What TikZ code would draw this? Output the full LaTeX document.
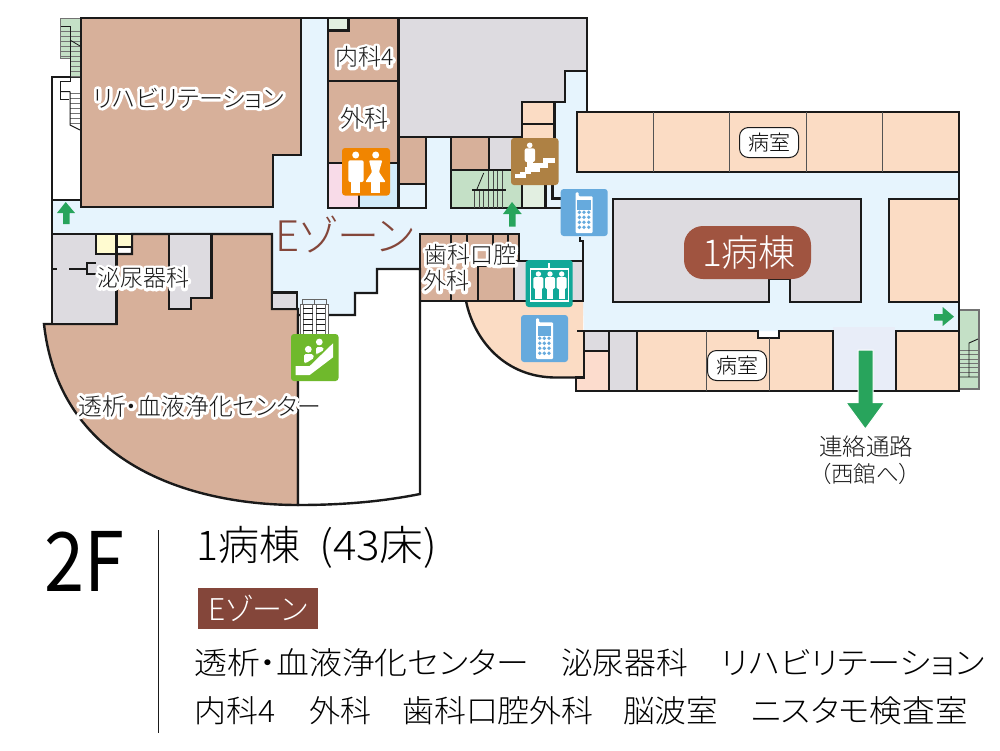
\documentclass[tikz,border=0pt]{standalone}
\usepackage{fontspec}
\setmainfont{Noto Sans CJK JP}[RawFeature={+palt}]
\newfontfamily\lightjp{Noto Sans CJK JP Light}[RawFeature={+palt}]
\definecolor{wall}{HTML}{1A1A1A}
\definecolor{corr}{HTML}{E6F4FD}
\definecolor{brownroom}{HTML}{D7B09A}
\definecolor{grayroom}{HTML}{DDDBE0}
\definecolor{peach}{HTML}{FBDCC4}
\definecolor{pinkpeach}{HTML}{FCDCCD}
\definecolor{stairgreen}{HTML}{C4E0C6}
\definecolor{palegreen}{HTML}{E2EFE1}
\definecolor{yellowroom}{HTML}{FFFBD0}
\definecolor{pinkroom}{HTML}{F8DBE8}
\definecolor{blueroom}{HTML}{D1EBFA}
\definecolor{lav}{HTML}{E8EDF8}
\definecolor{arrowgreen}{HTML}{28A45C}
\definecolor{tagbrown}{HTML}{A05440}
\definecolor{zonebrown}{HTML}{84463A}
\definecolor{icphone}{HTML}{66AADD}
\definecolor{icwc}{HTML}{F18500}
\definecolor{icstair}{HTML}{AE8144}
\definecolor{icelev}{HTML}{11A898}
\definecolor{icesc}{HTML}{6FB92C}
\newcommand{\halotxt}[1]{\rlap{\special{pdf:code q 1 j 1 J 6 w 1 1 1 RG 1 1 1 rg 2 Tr}#1\special{pdf:code Q}}#1}
\newcommand{\fsz}[1]{\lightjp\fontsize{#1}{#1}\selectfont}
\tikzset{
  room/.style={draw=wall,line width=2.4pt,line join=miter},
  wl/.style={draw=wall,line width=2.4pt},
  thin wall/.style={draw=wall!75,line width=1pt},
  rung/.style={draw=black!55,line width=.8pt},
  lbl/.style={inner sep=0pt,anchor=west,text=black!90},
  mid/.style={inner sep=0pt,anchor=center,text=black!90},
  pill/.style={draw=wall,fill=white,line width=1pt,rounded corners=9pt,minimum width=59pt,minimum height=30pt,inner sep=0pt,text=black},
  icon/.style={rounded corners=3pt},
  wht/.style={fill=white,draw=none},
  go/.style={fill=arrowgreen,draw=none},
}
\newcommand{\phoneicon}[2]{\begin{scope}[shift={(#1,#2)}]
  \fill[icphone,icon] (0,0) rectangle (47,47);
  \fill[white,rounded corners=1pt] (15,3.3) -- (18,3.3) -- (18,7.3) -- (32,7.3) -- (32,44) -- (15,44) -- cycle;
  \fill[icphone] (16.7,10.7) rectangle (30,20.7);
  \foreach \yy in {23.3,28.3,33.3,38.3}\foreach \xx in {18.7,23.3,28}{\fill[icphone] (\xx,\yy) circle (1.9);}
\end{scope}}
\begin{document}
\begin{tikzpicture}[x=1pt,y=-1pt]
\useasboundingbox (0,0) rectangle (1000,750);
\fill[white] (0,0) rectangle (1000,750);
% corridor ground
\fill[corr] (52,200) -- (273,200) -- (273,155) -- (301,155) -- (301,18) -- (328,18) -- (328,137) -- (554,137) -- (554,102) -- (565,102) -- (565,71) -- (587,71) -- (587,112) -- (959,112) -- (959,331) -- (584,331) -- (583,301) -- (519,301) -- (519,234) -- (420,234) -- (420,269) -- (377,269) -- (377,293) -- (355,293) -- (355,315) -- (328,315) -- (328,309) -- (297,309) -- (297,292) -- (272,292) -- (272,234) -- (52,234) -- cycle;
% white room and stairs (upper left)
\draw[room,fill=white] (52,77) rectangle (81,200);
\fill[stairgreen] (60,18) -- (80,18) -- (80,77) -- (71,77) -- (71,58) -- (60,58) -- cycle;
\draw[draw=black!55,line width=1pt] (80,18) -- (60,18) -- (60,58) -- (71,58);
\foreach \yy in {31,36,41,46,51,56}{\draw[rung] (60,\yy) -- (80,\yy);}
\foreach \yy in {61,66,71,76}{\draw[rung] (71,\yy) -- (80,\yy);}
\draw[draw=wall,line width=1pt] (60.5,26.7) -- (70,26.7) -- (70,81.7);
\draw[draw=wall,line width=.8pt] (70,40) -- (80,46);
\draw[draw=wall,line width=1pt] (70,81.7) -- (60.7,81.7) -- (60.7,99) -- (69,99);
\foreach \yy in {93,98,103,108,113,118,123}{\draw[rung] (70,\yy) -- (80,\yy);}
\draw[draw=wall,line width=1pt] (70,91.7) -- (60.7,91.7) (70,91.7) -- (70,125) -- (80,130);
% rehabilitation
\draw[room,fill=brownroom] (81,18) -- (301,18) -- (301,155) -- (273,155) -- (273,207) -- (81,207) -- cycle;
\draw[wl] (81,18) -- (81,143);
% central block
\draw[room,fill=brownroom] (328,18) rectangle (398.5,81);
\draw[room,fill=palegreen] (328,18) rectangle (348.5,30.5);
\draw[room,fill=brownroom] (328,81) rectangle (398.5,163);
\draw[room,fill=pinkroom] (328,163) rectangle (359,208);
\draw[room,fill=blueroom] (359,163) rectangle (398.5,208);
\draw[room,fill=grayroom] (398.5,18) -- (587,18) -- (587,71) -- (565,71) -- (565,102) -- (522,102) -- (522,137) -- (398.5,137) -- cycle;
\draw[wl] (301,18) -- (328,18);
\draw[room,fill=brownroom] (398.5,137) rectangle (426,184);
\draw[room,fill=corr] (398.5,184) rectangle (426,208);
\draw[wl] (426,137) -- (451,137);
\draw[room,fill=brownroom] (451,137) rectangle (489,170);
\draw[room,fill=grayroom] (489,137) rectangle (522,170);
\draw[room,fill=stairgreen] (451,170) rectangle (522,208);
\foreach \xx in {474.3,479,483.7}{\draw[draw=wall!80,line width=.9pt] (\xx,191) -- (\xx,208);}
\foreach \xx in {488.3,493,497.7,502.3}{\draw[draw=wall!80,line width=.9pt] (\xx,171) -- (\xx,208);}
\draw[draw=wall,line width=1.6pt] (472,190) -- (505.7,190);
\draw[draw=wall,line width=.8pt] (483.7,173) -- (477,189);
\draw[room,fill=palegreen] (522,170) rectangle (545.5,208);
\draw[wl] (545.5,208) -- (561,208) (552.5,184) -- (552.5,198.5) -- (561,198.5);
\draw[room,fill=peach] (522,102) rectangle (554.5,124);
\draw[room,fill=peach] (522,124) rectangle (554.5,142);
% east wing top
\draw[wl] (587,71) -- (587,112);
\draw[room,fill=peach] (577,112) rectangle (959,172);
\foreach \xx in {653,729,806,882}{\draw[thin wall] (\xx,112) -- (\xx,172);}
\draw[wl] (959,172) -- (959,199);
\draw[room,fill=grayroom] (613,199) -- (861,199) -- (861,302) -- (790,302) -- (790,279) -- (769,279) -- (769,302) -- (613,302) -- cycle;
\node[fill=tagbrown,rounded corners=19pt,minimum width=127pt,minimum height=53pt,inner sep=0pt,text=white] (ward) at (747.5,252.5) {\hspace{3pt}\fsz{37}1病棟};
\draw[room,fill=peach] (889,199) rectangle (959,302);
\draw[wl] (959,302) -- (959,331);
% east wing bottom
\fill[lav] (833,327) rectangle (895,391);
\fill[stairgreen] (960,310) rectangle (979,389);
\draw[draw=black!55,line width=1.4pt] (960,310) -- (979,310) -- (979,389) -- (960,389);
\foreach \yy in {350,354.3,359,363.3,367.7,372}{\draw[rung] (960,\yy) -- (978,\yy);}
\draw[draw=wall,line width=.9pt] (978,339) -- (969,343) -- (969,377) -- (960,377) (969,377) -- (978,377);
\draw[room,fill=peach] (637,331) -- (758,331) -- (758,338) -- (779,338) -- (779,331) -- (833,331) -- (833,391) -- (637,391) -- cycle;
\draw[thin wall] (706,331) -- (706,391) (769,338) -- (769,391);
\draw[room,fill=peach] (896,331) rectangle (959,391);
\draw[wl] (833,391) -- (896,391);
% peach curved lobby
\fill[peach] (466,301) .. controls (474,340) and (505,378) .. (557,377.5) -- (583,377.5) -- (583,301) -- cycle;
\draw[wl] (466,301) .. controls (474,340) and (505,378) .. (557,377.5) -- (583,377.5);
\draw[room,fill=pinkpeach] (584,351) -- (609,351) -- (609,391) -- (576,391) -- (576,377.5) -- (584,377.5) -- cycle;
\draw[room,fill=grayroom] (584,331) rectangle (609,351);
\draw[room,fill=grayroom] (609,331) rectangle (637,391);
\draw[wl] (577,331) -- (584,331) -- (584,378);
% dental
\draw[room,fill=brownroom] (420,234) -- (519,234) -- (519,261) -- (514,261) -- (514,301) -- (420,301) -- cycle;
\draw[room,fill=grayroom] (514,261) rectangle (583,301);
\draw[wl] (583,261) -- (583,241) -- (580,241) -- (580,237);
\foreach \xx in {451,467,493,508}{\draw[wl] (\xx,234) -- (\xx,246);}
\draw[wl] (451,266) -- (451,301) (478,266) -- (478,301) (478,266) -- (514,266);
% west lower block
\draw[room,fill=brownroom] (44,324) -- (116.5,324) -- (116.5,254) -- (132,254) -- (132,234) -- (272,234) -- (272,309) -- (298,309) -- (298,505) .. controls (200,505) and (60,470) .. (44,324) -- cycle;
\draw[room,fill=grayroom] (52,234) -- (96,234) -- (96,254) -- (116.5,254) -- (116.5,324) -- (52,324) -- cycle;
\draw[room,fill=yellowroom] (96,234) rectangle (116.5,254);
\draw[room,fill=yellowroom] (116.5,234) rectangle (132,247);
\draw[wl] (132,234) -- (132,254);
\draw[wl] (52,269) -- (57,269) (69,269) -- (87,269) (96,263) -- (87,263) -- (87,274) -- (96,274);
\draw[room,fill=grayroom] (169,234) -- (211.5,234) -- (211.5,298) -- (191,298) -- (191,309) -- (169,309) -- cycle;
\draw[room,fill=grayroom] (272,292.5) rectangle (297,309);
\draw[wl] (52,200) -- (52,234);
% white block and outer walls
\draw[room,fill=white] (298,315) -- (355,315) -- (355,293) -- (377,293) -- (377,269) -- (420,269) -- (420,494) .. controls (380,502) and (340,505) .. (298,505) -- cycle;
\draw[wl] (420,301) -- (466,301);
\draw[wl] (959,112) -- (959,391);
% escalator
\fill[white] (300.7,304) rectangle (328.3,335);
\draw[draw=black!60,line width=.8pt] (302,299) rectangle (326.7,304) (314,299) -- (314,304);
\draw[draw=black!60,line width=.8pt] (300.7,335) -- (300.7,304) -- (328.3,304) -- (328.3,335);
\foreach \xx in {303,312.7,316,325}{\draw[draw=black!60,line width=.8pt] (\xx,304) -- (\xx,335);}
\foreach \yy in {308.7,313,319,324.7,330}{\draw[draw=wall,line width=.8pt] (303,\yy) -- (312.7,\yy) (316,\yy) -- (325,\yy);}
% arrows
\path[go] (65.7,202) -- (75,213) -- (69.7,213) -- (69.7,224) -- (63,224) -- (63,213) -- (57,213) -- cycle;
\path[go] (512,202) -- (521.7,214) -- (515.7,214) -- (515.7,226.7) -- (509,226.7) -- (509,214) -- (503,214) -- cycle;
\path[go] (954,316.7) -- (942.7,326) -- (942.7,320.7) -- (934,320.7) -- (934,314) -- (942.7,314) -- (942.7,307) -- cycle;
\path[fill=arrowgreen,draw=white,line width=1pt] (865.3,429) -- (846,402.7) -- (858,402.7) -- (858,350) -- (873,350) -- (873,402.7) -- (884.5,402.7) -- cycle;
% icons
\begin{scope}[shift={(342,148)}]
  \fill[icwc,icon] (0,0) rectangle (48,47.5);
  \fill[white] (13.7,7) circle (3.5);
  \fill[white,rounded corners=2pt] (6.3,34) -- (6.3,12.3) -- (21.7,12.3) -- (21.7,34) -- cycle;
  \fill[white] (9.3,30) rectangle (18.3,45);
  \fill[white] (33.7,7) circle (3.5);
  \fill[white,rounded corners=1pt] (27,12.3) -- (40.3,12.3) -- (37,24) -- (43.7,34) -- (23.3,34) -- (30,24) -- cycle;
  \fill[white] (29.3,32) rectangle (38.3,45);
\end{scope}
\begin{scope}[shift={(511,138)}]
  \fill[icstair,icon] (0,0) rectangle (47.5,47);
  \fill[white] (18.7,7.3) circle (2.8);
  \fill[white,rounded corners=2pt] (13.7,24) -- (13.7,10.3) -- (24,10.3) -- (24,24) -- cycle;
  \fill[white] (16,22) rectangle (22,31);
  \fill[white] (32,20.3) rectangle (44,24.9);
  \fill[white] (22,24.7) rectangle (37,29.5);
  \fill[white] (13.7,29.3) rectangle (29,33.9);
  \fill[white] (9,33.7) rectangle (20,36.2);
  \fill[white] (4,36) rectangle (15,40.3);
\end{scope}
\phoneicon{560.7}{189}
\phoneicon{521}{315}
\begin{scope}[shift={(525.7,260)}]
  \fill[icelev,icon] (0,0) rectangle (47,47);
  \draw[white,line width=1.2pt] (4.5,9) rectangle (42.5,41);
  \draw[white,line width=1.2pt] (23.3,3.3) -- (23.3,9);
  \foreach \xx in {12.7,24.3,36}{
    \fill[white] (\xx,14) circle (2.7);
    \fill[white,rounded corners=1.5pt] (\xx-5,29) -- (\xx-5,17) -- (\xx+5,17) -- (\xx+5,29) -- cycle;
    \fill[white] (\xx-3.2,27) rectangle (\xx+3.2,39);
  }
\end{scope}
\begin{scope}[shift={(291,334)}]
  \fill[icesc,icon] (0,0) rectangle (47.5,47);
  \fill[white] (17.3,15.3) circle (3.4);
  \fill[white] (28.3,8) circle (3.4);
  \fill[white,rounded corners=1.5pt] (13,29) -- (13,20) -- (22,20) -- (23,24) -- (15,29) -- cycle;
  \fill[white,rounded corners=1.5pt] (25,20) -- (25,13) -- (32,13) -- (33,16) -- (26,20) -- cycle;
  \fill[white] (4.7,32) -- (4.7,41) -- (18.7,41) -- (42,23.3) -- (42,9.3) -- (18.7,32) -- cycle;
\end{scope}
% map labels
\node[lbl] (rehab) at (93,98) {\fsz{24}\halotxt{リハビリテーション}};
\node[lbl] (naika) at (335,57) {\fsz{23}\halotxt{内科4}};
\node[lbl] (geka) at (340,118) {\fsz{24}\halotxt{外科}};
\node[lbl] (hinyo) at (97,278) {\fsz{23}\halotxt{泌尿器科}};
\node[lbl] (toseki) at (78,406) {\fsz{23.8}\halotxt{透析・血液浄化センター}};
\node[lbl] (shika) at (424,255) {\fsz{23}\halotxt{歯科口腔}};
\node[lbl] (geka2) at (423,281) {\fsz{23}\halotxt{外科}};
\node[lbl,text=zonebrown] (ezone) at (275,235) {\fsz{42}Eゾーン};
\node[pill] (ward1) at (769,142.5) {\fsz{21}病室};
\node[pill] (ward2) at (737,365.5) {\fsz{21}病室};
\node[mid] (link1) at (866,447) {\fsz{23.5}連絡通路};
\node[mid] (link2) at (865,474) {\fsz{22.5}（西館へ）};
% footer
\node[lbl,text=black] (floor) at (44,561) {\scalebox{.88}[1]{\normalfont\fontsize{82}{82}\selectfont 2F}};
\coordinate (rtop) at (158,530);
\coordinate (rbot) at (158,733);
\draw[wall,line width=1pt] (rtop) -- (rbot);
\node[lbl,text=black] (title) at (196,547) {\fsz{41}1病棟\hspace{10pt} \scalebox{1.07}[1]{(43床)}};
\node[fill=zonebrown,minimum width=120pt,minimum height=41pt,inner sep=0pt,text=white] (zonetag) at (258,608.5) {\fsz{30}Eゾーン\hspace{10pt}};
\node[lbl,text=black] (f1) at (194,663) {\scalebox{1.06}[1]{\fsz{31}透析・血液浄化センター}};
\node[lbl,text=black] (f2) at (561,663) {\scalebox{1.025}[1]{\fsz{31}泌尿器科}};
\node[lbl,text=black] (f3) at (721,663) {\scalebox{1.07}[1]{\fsz{31}リハビリテーション}};
\node[lbl,text=black] (f4) at (194,711) {\scalebox{1.03}[1]{\fsz{31}内科4}};
\node[lbl,text=black] (f5) at (309,711) {\fsz{31}外科};
\node[lbl,text=black] (f6) at (402,711) {\scalebox{1.03}[1]{\fsz{31}歯科口腔外科}};
\node[lbl,text=black] (f7) at (623,711) {\scalebox{1.02}[1]{\fsz{31}脳波室}};
\node[lbl,text=black] (f8) at (751,711) {\scalebox{1.05}[1]{\fsz{31}ニスタモ検査室}};
\end{tikzpicture}
\end{document}
